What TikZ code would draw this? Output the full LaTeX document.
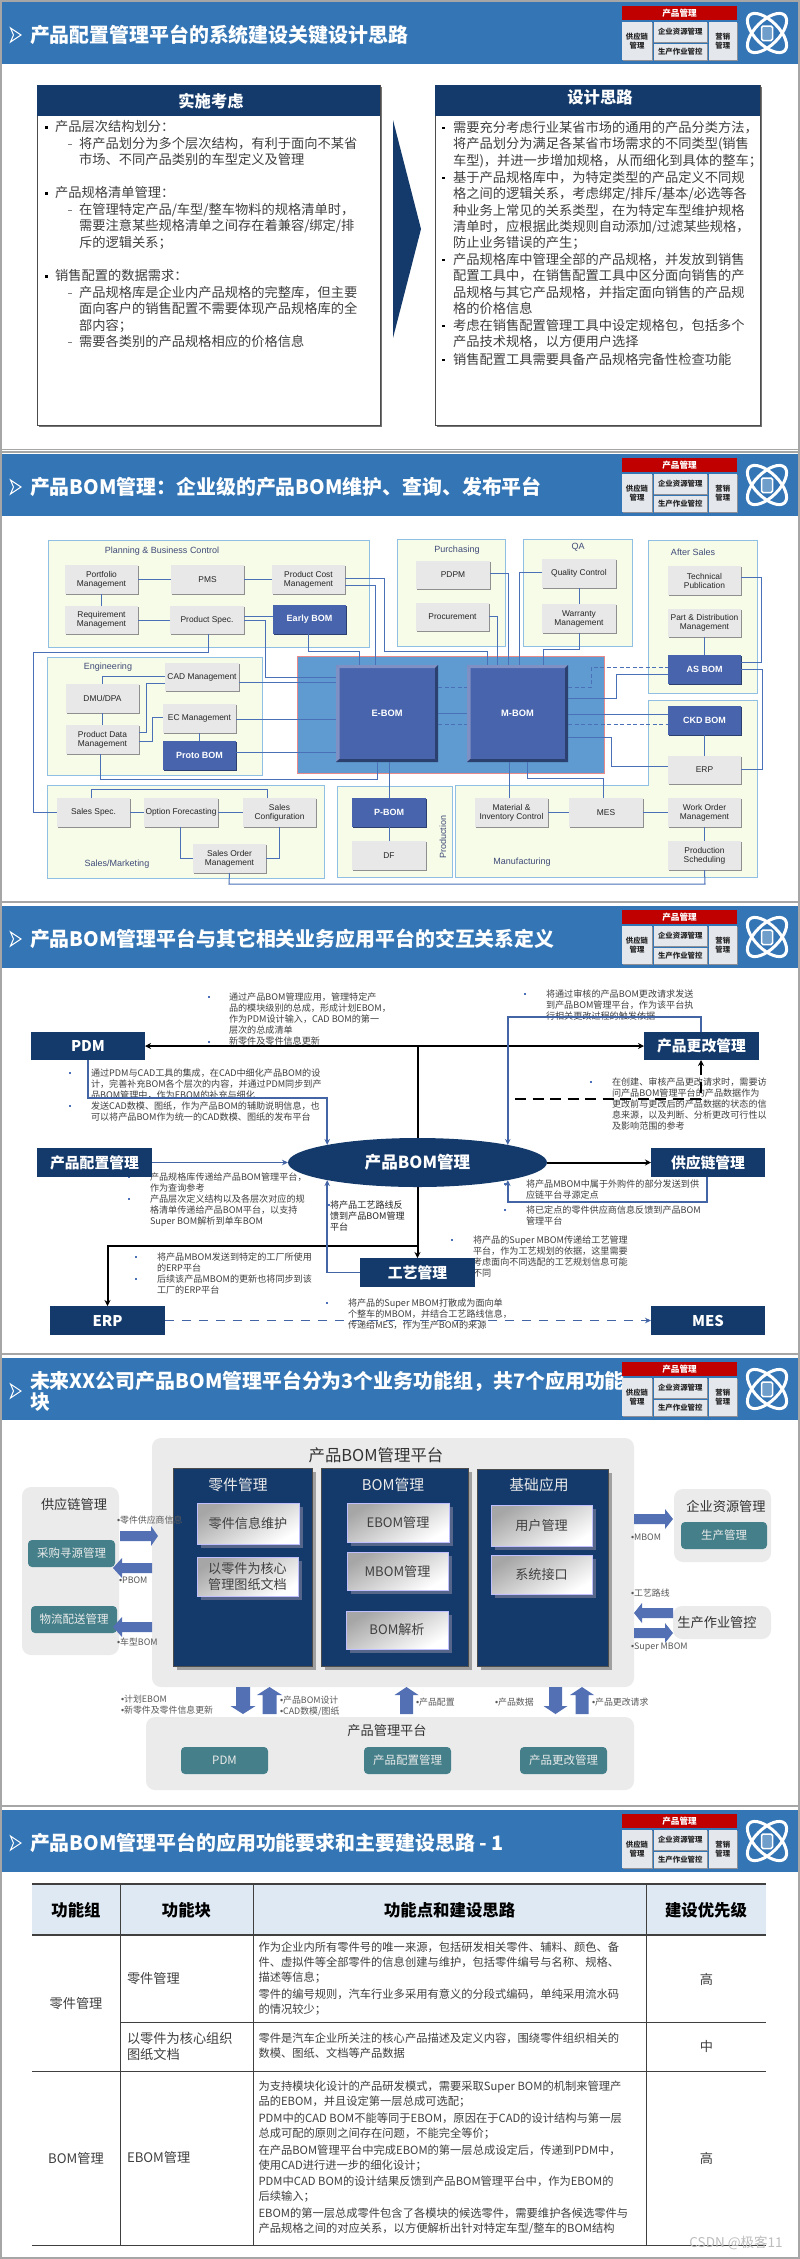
\documentclass[tikz,border=0pt]{standalone}
\usepackage{fontspec}
\setmainfont{Noto Sans CJK SC}
\newfontfamily\latf{Liberation Sans}
\newcommand\dotb{{\latf •}}
\usetikzlibrary{arrows.meta,shapes.geometric,shadows}
\definecolor{headblue}{HTML}{3375B5}
\definecolor{navy}{HTML}{143A6B}
\definecolor{badred}{HTML}{C00000}
\definecolor{badgray}{HTML}{E4E7EC}
\definecolor{edgegray}{HTML}{8C9096}
\definecolor{txtgray}{HTML}{404040}
\definecolor{framegray}{HTML}{A6A6A6}
\definecolor{grpfill}{HTML}{F7FCE8}
\definecolor{grpline}{HTML}{8FC0E4}
\definecolor{midblue}{HTML}{5F9BD0}
\definecolor{pinkline}{HTML}{E88A8A}
\definecolor{bomblue}{HTML}{4764AC}
\definecolor{bomdark}{HTML}{2C4070}
\definecolor{bomlight}{HTML}{7F90C4}
\definecolor{linkblue}{HTML}{4A70B8}
\definecolor{boxgray}{HTML}{E8E8E8}
\definecolor{boxshade}{HTML}{8F8F8F}
\definecolor{grplabel}{HTML}{3F4A78}
\definecolor{panelgray}{HTML}{EBEBEB}
\definecolor{teal}{HTML}{45808A}
\definecolor{blockblue}{HTML}{5470B5}
\definecolor{colshade}{HTML}{A0A0A0}
\definecolor{innershade}{HTML}{55668A}
\definecolor{theadfill}{HTML}{DEE9F3}
\definecolor{wmgray}{HTML}{BDBDBD}
\tikzset{
 base/.style={inner sep=0pt,outer sep=0pt,align=center},
 ttl/.style={base,anchor=west,align=left,text=white,font=\fontsize{19.9}{21}\selectfont\bfseries},
 badr/.style={base,fill=badred,text=white,font=\fontsize{8.6}{10}\selectfont\bfseries},
 badg/.style={base,fill=badgray,text=black!85,font=\fontsize{7.4}{9.5}\selectfont\bfseries,drop shadow={shadow xshift=.9pt,shadow yshift=-.9pt,fill=edgegray,opacity=1}},
 paper/.style={base,fill=white,draw=black!70,line width=.7pt,drop shadow={shadow xshift=2pt,shadow yshift=-2pt,fill=black!55,opacity=1}},
 navyhead/.style={base,fill=navy},
 headtxt/.style={base,text=white,font=\fontsize{16.3}{18}\selectfont\bfseries},
 t13/.style={inner sep=0pt,outer sep=0pt,anchor=north west,align=left,yshift=6.6pt,text=txtgray,font=\fontsize{13.25}{16.3}\selectfont},
 t9/.style={inner sep=0pt,outer sep=0pt,anchor=north west,align=left,yshift=4.6pt,text=txtgray,font=\fontsize{9.1}{11}\selectfont},
 t11/.style={inner sep=0pt,outer sep=0pt,anchor=north west,align=left,yshift=5.6pt,text=txtgray,font=\fontsize{11.27}{14.6}\selectfont},
 grp/.style={fill=grpfill,draw=grpline,line width=1pt},
 grptext/.style={base,text=grplabel,font=\latf\fontsize{9}{11}\selectfont},
 gbox/.style={base,fill=boxgray,text=black!85,font=\latf\fontsize{8.4}{9}\selectfont,drop shadow={shadow xshift=1.2pt,shadow yshift=-1.2pt,fill=boxshade,opacity=1}},
 bbox/.style={base,fill=bomblue,text=white,font=\latf\fontsize{9}{10}\selectfont\bfseries,drop shadow={shadow xshift=.8pt,shadow yshift=-.8pt,fill=bomdark,opacity=1}},
 bigbom/.style={base,fill=bomblue,text=white,font=\latf\fontsize{9.3}{11}\selectfont\bfseries},
 cn/.style={draw=linkblue,line width=1pt},
 cnd/.style={draw=linkblue,line width=1pt,dash pattern=on 4pt off 2.5pt},
 nvbox/.style={base,fill=navy,text=white,font=\fontsize{14.8}{16}\selectfont\bfseries},
 blk/.style={draw=black,line width=2pt,>={Stealth[length=6pt,width=6pt]}},
 blu/.style={draw=linkblue!90!black,line width=1.7pt,>={Stealth[length=6pt,width=5.5pt]}},
 pnl/.style={base,fill=panelgray,rounded corners=9pt,text=black!80,font=\fontsize{13.2}{15}\selectfont},
 col/.style={base,fill=navy,draw=black!70,line width=.5pt,drop shadow={shadow xshift=4pt,shadow yshift=-4pt,fill=colshade,opacity=1}},
 coltxt/.style={base,text=white!92!black,font=\fontsize{14.8}{16}\selectfont},
 inbox/.style={base,draw=blue!25!white,line width=.8pt,top color=black!35,bottom color=white,shading angle=30,text=black!75,font=\fontsize{13.1}{16}\selectfont,drop shadow={shadow xshift=4pt,shadow yshift=-4pt,fill=innershade,opacity=1}},
 tealbox/.style={base,fill=teal,rounded corners=4pt,text=white!92!black,font=\fontsize{11.5}{13}\selectfont},
 lbl/.style={inner sep=0pt,outer sep=0pt,anchor=north west,align=left,yshift=4.5pt,text=black!65,font=\fontsize{8.9}{11}\selectfont},
 blockfill/.style={fill=blockblue},
 thd/.style={base,text=black,font=\fontsize{16.4}{18}\selectfont\bfseries},
 tcell/.style={base,text=txtgray,font=\fontsize{13.2}{16}\selectfont},
 tleft/.style={inner sep=0pt,outer sep=0pt,anchor=north west,align=left,yshift=6.6pt,text=txtgray,font=\fontsize{13.2}{16}\selectfont},
}
\newcommand\bx[7]{%
 \pgfmathsetmacro\rsW{#5-#3}\pgfmathsetmacro\rsH{#6-#4}%
 \pgfmathsetmacro\rsX{(#3+#5)/2}\pgfmathsetmacro\rsY{(#4+#6)/2}%
 \node[#1,minimum width=\rsW pt,minimum height=\rsH pt] (#2) at (\rsX,\rsY) {#7};}
\newcommand\sq[4]{\fill[#4] ({#1-#3/2},{#2-#3/2}) rectangle ({#1+#3/2},{#2+#3/2});}
\newcommand\dashmark[1]{\fill[black!50] (68,{#1-.5}) rectangle (71.5,{#1+.5});}
\newcommand\slidehead[3]{%
 \begin{scope}[shift={(0,#2)}]
 \fill[headblue] (2,0) rectangle (798,62);
 \draw[white,line width=1pt,line join=miter] (10.5,26)--(21,33)--(10.5,40)--(13.5,33)--cycle;
 \node[ttl] (#1title) at (30,33.3) {#3};
 \bx{badr}{#1r}{622}{4}{737}{18}{产品管理}
 \bx{badg}{#1a}{622}{20}{652}{58}{供应链\\管理}
 \bx{badg}{#1b}{653.5}{20}{707}{40}{企业资源管理}
 \bx{badg}{#1c}{653.5}{41.5}{707}{58}{生产作业管控}
 \bx{badg}{#1d}{708.5}{20}{737}{58}{营销\\管理}
 \draw[white,line width=3pt,rotate around={45:(767,31)}] (767,31) ellipse [x radius=25pt,y radius=12pt];
 \draw[white,line width=3pt,rotate around={-45:(767,31)}] (767,31) ellipse [x radius=25pt,y radius=12pt];
 \draw[white,fill=headblue!70!white,line width=1.5pt,rounded corners=1.5pt] (761.5,24) rectangle (772.5,38.5);
 \end{scope}}
\newcommand\bevel[1]{%
 \fill[bomlight] (#1.north west)--(#1.north east)--([xshift=-3pt,yshift=-3pt]#1.north east)--([xshift=3.5pt,yshift=-3pt]#1.north west)--cycle;
 \fill[bomlight] (#1.north west)--(#1.south west)--([xshift=3.5pt,yshift=3pt]#1.south west)--([xshift=3.5pt,yshift=-3pt]#1.north west)--cycle;
 \fill[bomdark] (#1.north east)--(#1.south east)--([xshift=-3pt,yshift=3pt]#1.south east)--([xshift=-3pt,yshift=-3pt]#1.north east)--cycle;
 \fill[bomdark] (#1.south west)--(#1.south east)--([xshift=-3pt,yshift=3pt]#1.south east)--([xshift=3.5pt,yshift=3pt]#1.south west)--cycle;}
\newcommand\rarr[4]{\fill[blockfill] (#1,{#4-5})--(#2,{#4-5})--(#2,{#4-10})--(#3,#4)--(#2,{#4+10})--(#2,{#4+5})--(#1,{#4+5})--cycle;}
\newcommand\darr[5]{\fill[blockfill] ({#1-#5},#2)--({#1+#5},#2)--({#1+#5},#3)--({#1+#5+5.5},#3)--(#1,#4)--({#1-#5-5.5},#3)--({#1-#5},#3)--cycle;}
\begin{document}
\begin{tikzpicture}[x=1pt,y=-1pt]
\useasboundingbox (0,0) rectangle (800,2259);
\fill[white] (0,0) rectangle (800,2259);
\fill[framegray] (0,0) rectangle (2,2259);
\fill[framegray] (798,0) rectangle (800,2259);
\fill[framegray] (0,0) rectangle (800,2);
\fill[framegray] (0,448.8) rectangle (800,450);
\fill[framegray] (0,451.3) rectangle (800,452.7);
\fill[framegray] (0,901) rectangle (800,902.7);
\fill[framegray] (0,1353) rectangle (800,1354.7);
\fill[framegray] (0,1804.7) rectangle (800,1806.7);
\fill[framegray] (0,2257) rectangle (800,2259);

% ---------- slide 1
\slidehead{sa}{2}{产品配置管理平台的系统建设关键设计思路}
\bx{paper}{lpaper}{37}{85}{380}{425}{}
\bx{navyhead}{lhead}{37}{85}{380}{116}{}
\node[headtxt] (ltitle) at (211,101) {实施考虑};
\bx{paper}{rpaper}{435}{85}{760}{425}{}
\bx{navyhead}{rhead}{435}{85}{760}{116}{}
\node[headtxt] (rtitle) at (600,97) {设计思路};
\fill[navy] (393,120)--(421,229)--(393,338)--cycle;
\sq{46}{127}{3}{black}\sq{46}{193}{3}{black}\sq{46}{276}{3}{black}
\dashmark{144}\dashmark{210}\dashmark{293}\dashmark{342}
\node[t13] (l1) at (55,127) {产品层次结构划分：};
\node[t13] (l1s) at (79,144) {将产品划分为多个层次结构，有利于面向不某省\\市场、不同产品类别的车型定义及管理};
\node[t13] (l2) at (55,193) {产品规格清单管理：};
\node[t13] (l2s) at (79,210) {在管理特定产品/车型/整车物料的规格清单时，\\需要注意某些规格清单之间存在着兼容/绑定/排\\斥的逻辑关系；};
\node[t13] (l3) at (55,276) {销售配置的数据需求：};
\node[t13] (l3s) at (79,293) {产品规格库是企业内产品规格的完整库，但主要\\面向客户的销售配置不需要体现产品规格库的全\\部内容；};
\node[t13] (l3t) at (79,342) {需要各类别的产品规格相应的价格信息};
\sq{443.5}{128}{2.6}{black}\sq{443.5}{178}{2.6}{black}\sq{443.5}{260}{2.6}{black}\sq{443.5}{326}{2.6}{black}\sq{443.5}{360}{2.6}{black}
\node[t13] (r1) at (453,128) {需要充分考虑行业某省市场的通用的产品分类方法，\\将产品划分为满足各某省市场需求的不同类型(销售\\车型)，并进一步增加规格，从而细化到具体的整车；};
\node[t13] (r2) at (453,178) {基于产品规格库中，为特定类型的产品定义不同规\\格之间的逻辑关系，考虑绑定/排斥/基本/必选等各\\种业务上常见的关系类型，在为特定车型维护规格\\清单时，应根据此类规则自动添加/过滤某些规格，\\防止业务错误的产生；};
\node[t13] (r3) at (453,260) {产品规格库中管理全部的产品规格，并发放到销售\\配置工具中，在销售配置工具中区分面向销售的产\\品规格与其它产品规格，并指定面向销售的产品规\\格的价格信息};
\node[t13] (r4) at (453,326) {考虑在销售配置管理工具中设定规格包，包括多个\\产品技术规格，以方便用户选择};
\node[t13] (r5) at (453,360) {销售配置工具需要具备产品规格完备性检查功能};

% ---------- slide 2
\slidehead{sb}{454}{产品BOM管理：企业级的产品BOM维护、查询、发布平台}
\draw[grp] (48,540) rectangle (369,647);
\draw[grp] (397,539) rectangle (505,646);
\draw[grp] (523,539) rectangle (632,646);
\draw[grp] (648,540) rectangle (757,693);
\draw[grp] (47,657) rectangle (262,775);
\draw[grp] (47,785) rectangle (324,878);
\draw[grp] (337,786) rectangle (452,877);
\draw[grp] (648,700)--(757,700)--(757,877)--(455,877)--(455,785)--(648,785)--cycle;
\draw[fill=midblue,draw=pinkline,line width=1pt] (297,656) rectangle (604,773);
\node[grptext] (gplan) at (162,551) {Planning \& Business Control};
\node[grptext] (gpur) at (457,550) {Purchasing};
\node[grptext] (gqa) at (578,547) {QA};
\node[grptext] (gas) at (693,552) {After Sales};
\node[grptext] (geng) at (108,667) {Engineering};
\node[grptext] (gsal) at (117,864) {Sales/Marketing};
\node[grptext,rotate=90] (gpro) at (443,837) {Production};
\node[grptext] (gman) at (522,862) {Manufacturing};
\bx{gbox}{port}{65}{565}{138}{594}{Portfolio\\Management}
\bx{gbox}{pms}{171}{565}{244}{594}{PMS}
\bx{gbox}{pcost}{272}{565}{345}{594}{Product Cost\\Management}
\bx{gbox}{req}{65}{606}{138}{634}{Requirement\\Management}
\bx{gbox}{pspec}{170}{606}{244}{634}{Product Spec.}
\bx{bbox}{early}{273}{605}{346}{634}{Early BOM}
\bx{gbox}{cad}{165}{663}{239}{691}{CAD Management}
\bx{gbox}{dmu}{66}{684}{139}{713}{DMU/DPA}
\bx{gbox}{ec}{163}{704}{236}{733}{EC Management}
\bx{gbox}{pdata}{66}{725}{139}{754}{Product Data\\Management}
\bx{bbox}{proto}{163}{741}{236}{770}{Proto BOM}
\bx{gbox}{sspec}{57}{798}{130}{827}{Sales Spec.}
\bx{gbox}{optf}{144}{798}{218}{827}{Option Forecasting}
\bx{gbox}{scfg}{243}{798}{316}{827}{Sales\\Configuration}
\bx{gbox}{sord}{193}{844}{266}{873}{Sales Order\\Management}
\bx{bbox}{pbom}{352}{798}{426}{827}{P-BOM}
\bx{gbox}{df}{352}{841}{426}{870}{DF}
\bx{gbox}{pdpm}{416}{561}{490}{589}{PDPM}
\bx{gbox}{proc}{416}{603}{489}{631}{Procurement}
\bx{gbox}{qual}{542}{559}{616}{588}{Quality Control}
\bx{gbox}{warr}{542}{604}{616}{633}{Warranty\\Management}
\bx{gbox}{tech}{668}{566}{741}{595}{Technical\\Publication}
\bx{gbox}{part}{668}{609}{741}{637}{Part \& Distribution\\Management}
\bx{bbox}{asb}{668}{655}{741}{684}{AS BOM}
\bx{bbox}{ckd}{668}{706}{741}{735}{CKD BOM}
\bx{gbox}{erpb}{668}{756}{741}{784}{ERP}
\bx{gbox}{wo}{668}{798}{741}{827}{Work Order\\Management}
\bx{gbox}{psch}{668}{841}{741}{870}{Production\\Scheduling}
\bx{gbox}{matl}{475}{798}{548}{827}{Material \&\\Inventory Control}
\bx{gbox}{mesb}{569}{798}{643}{827}{MES}
\bx{bigbom}{eb}{336}{665}{438}{762}{E-BOM}
\bx{bigbom}{mb}{467}{665}{568}{762}{M-BOM}
\bevel{eb}\bevel{mb}
\draw[cn] (port.east) -- (pms.west);
\draw[cn] (pms.east) -- (pcost.west);
\draw[cn] (port.south) -- (req.north);
\draw[cn] (req.east) -- (pspec.west);
\draw[cn] (pspec.east |- 0,616) -- (early.west |- 0,616);
\draw[cn] (pspec.east |- 0,620) -- (265,620) -- (265,677) -- (eb.west |- 0,677);
\draw[cn] (pcost.east |- 0,578) -- (384,578) -- (384,651) -- (487,651) -- (487,0 |- mb.north);
\draw[cn] (pcost.east |- 0,585) -- (375.5,585) -- (375.5,0 |- eb.north);
\draw[cn] (308,0 |- early.south) -- (308,651) -- (359,651) -- (359,0 |- eb.north);
\draw[cn] (208,0 |- pspec.south) -- (208,652) -- (33,652) -- (33,812) -- (sspec.west |- 0,812);
\draw[cn] (cad.east |- 0,682) -- (eb.west |- 0,682);
\draw[cn] (cad.west |- 0,676) -- (102,676) -- (102,0 |- dmu.north);
\draw[cn] (pdata.east |- 0,732) -- (146,732) -- (146,683) -- (cad.west |- 0,683);
\draw[cn] (pdata.east |- 0,741) -- (152,741) -- (152,717) -- (ec.west |- 0,717);
\draw[cn] (102,0 |- dmu.south) -- (102,0 |- pdata.north);
\draw[cn] (ec.south) -- (ec.south |- proto.north);
\draw[cn] (ec.east |- 0,719) -- (eb.west |- 0,719);
\draw[cn] (proto.east |- 0,752) -- (eb.west |- 0,752);
\draw[cn] (100,0 |- pdata.south) -- (100,779) -- (377,779) -- (377,0 |- eb.south);
\draw[cn] (pbom.north |- eb.south) -- (pbom.north);
\draw[cn] (pbom.south) -- (df.north);
\draw[cn] (eb.east) -- (mb.west);
\draw[cnd] (eb.east |- 0,687) -- (mb.west |- 0,687);
\draw[cnd] (eb.east |- 0,724) -- (mb.west |- 0,724);
\draw[cnd] (mb.east |- 0,687) -- (591,687) -- (591,667) -- (asb.west |- 0,667);
\draw[cn] (mb.east |- 0,698) -- (616,698) -- (616,674) -- (asb.west |- 0,674);
\draw[cn] (mb.east |- 0,714) -- (ckd.west |- 0,714);
\draw[cnd] (mb.east |- 0,724) -- (ckd.west |- 0,724);
\draw[cn] (mb.east |- 0,737) -- (611,737) -- (611,766) -- (erpb.west |- 0,766);
\draw[cn] (509,0 |- mb.south) -- (509,0 |- matl.north);
\draw[cn] (527,0 |- mb.south) -- (527,778) -- (603,778) -- (603,0 |- mesb.north);
\draw[cn] (matl.east) -- (mesb.west);
\draw[cn] (mesb.east) -- (wo.west);
\draw[cn] (wo.south) -- (psch.north);
\draw[cn] (psch.south) -- (705,884) -- (229,884) -- (sord.south);
\draw[cn] (91,0 |- sspec.north) -- (91,789) -- (267,789) -- (267,0 |- scfg.north);
\draw[cn] (sspec.east) -- (optf.west);
\draw[cn] (optf.east) -- (scfg.west);
\draw[cn] (180,0 |- optf.south) -- (180,858) -- (sord.west |- 0,858);
\draw[cn] (279,0 |- scfg.south) -- (279,858) -- (sord.east |- 0,858);
\draw[cn] (proc.east |- 0,616) -- (497,616) -- (497,0 |- mb.north);
\draw[cn] (pdpm.east |- 0,573) -- (508,573) -- (508,0 |- mb.north);
\draw[cn] (qual.west |- 0,572) -- (519,572) -- (519,0 |- mb.north);
\draw[cn] (qual.south) -- (warr.north);
\draw[cn] (warr.south) -- (579,649) -- (543,649) -- (543,0 |- mb.north);
\draw[cn] (tech.east |- 0,577) -- (761,577) -- (761,662) -- (asb.east |- 0,662);
\draw[cn] (asb.east |- 0,669) -- (762,669) -- (762,769) -- (erpb.east |- 0,769);
\draw[cn] (part.south) -- (asb.north);
\draw[cn] (ckd.south) -- (erpb.north);

% ---------- slide 3
\slidehead{sc}{906}{产品BOM管理平台与其它相关业务应用平台的交互关系定义}
\node[t9] (ta) at (229,997) {通过产品BOM管理应用，管理特定产\\品的模块级别的总成，形成计划EBOM，\\作为PDM设计输入，CAD BOM的第一\\层次的总成清单\\新零件及零件信息更新};
\sq{208.7}{997}{2.4}{linkblue}\sq{208.7}{1042}{2.4}{linkblue}
\node[t9] (tb) at (91,1073) {通过PDM与CAD工具的集成，在CAD中细化产品BOM的设\\计，完善补充BOM各个层次的内容，并通过PDM同步到产\\品BOM管理中，作为EBOM的补充与细化\\发送CAD数模、图纸，作为产品BOM的辅助说明信息，也\\可以将产品BOM作为统一的CAD数模、图纸的发布平台};
\sq{70}{1073}{2.4}{linkblue}\sq{70}{1106}{2.4}{linkblue}
\node[t9] (tc) at (150,1177) {产品规格库传递给产品BOM管理平台，\\作为查询参考\\产品层次定义结构以及各层次对应的规\\格清单传递给产品BOM平台，以支持\\Super BOM解析到单车BOM};
\sq{129}{1177}{2.4}{linkblue}\sq{129}{1199}{2.4}{linkblue}
\node[t9,text=black!85] (td) at (330,1205) {将产品工艺路线反\\馈到产品BOM管理\\平台};
\sq{329}{1205}{1.8}{linkblue}
\node[t9] (te) at (157,1257) {将产品MBOM发送到特定的工厂所使用\\的ERP平台\\后续该产品MBOM的更新也将同步到该\\工厂的ERP平台};
\sq{136}{1257}{2.4}{linkblue}\sq{136}{1279}{2.4}{linkblue}
\node[t9] (tf) at (348,1303) {将产品的Super MBOM打散成为面向单\\个整车的MBOM，并结合工艺路线信息，\\传递给MES，作为生产BOM的来源};
\sq{327}{1303}{2.4}{linkblue}
\node[t9] (tg) at (546,994) {将通过审核的产品BOM更改请求发送\\到产品BOM管理平台，作为该平台执\\行相关更改过程的触发依据};
\sq{525}{994}{2.4}{linkblue}
\node[t9] (th) at (612,1082) {在创建、审核产品更改请求时，需要访\\问产品BOM管理平台的产品数据作为\\更改前与更改后的产品数据的状态的信\\息来源，以及判断、分析更改可行性以\\及影响范围的参考};
\sq{591}{1082}{2.4}{linkblue}
\node[t9] (ti) at (526,1184) {将产品MBOM中属于外购件的部分发送到供\\应链平台寻源定点};
\node[t9] (tj) at (526,1210) {将已定点的零件供应商信息反馈到产品BOM\\管理平台};
\sq{505}{1184}{2.4}{linkblue}\sq{505}{1210}{2.4}{linkblue}
\node[t9] (tk) at (473,1240) {将产品的Super MBOM传递给工艺管理\\平台，作为工艺规划的依据，这里需要\\考虑面向不同选配的工艺规划信息可能\\不同};
\sq{452}{1240}{2.4}{linkblue}
\bx{nvbox}{pdm}{31}{1032}{145}{1060}{PDM}
\bx{nvbox}{cfg}{37}{1148}{152}{1177}{产品配置管理}
\bx{nvbox}{erp}{50}{1306}{165}{1335}{ERP}
\bx{nvbox}{gy}{360}{1258}{475}{1287}{工艺管理}
\bx{nvbox}{chg}{644}{1032}{759}{1060}{产品更改管理}
\bx{nvbox}{scm}{651}{1148}{765}{1177}{供应链管理}
\bx{nvbox}{mes}{651}{1306}{765}{1335}{MES}
\node[ellipse,fill=navy,inner sep=0pt,outer sep=0pt,minimum width=259pt,minimum height=49pt,text=white,font=\fontsize{16.6}{18}\selectfont\bfseries] (core) at (417.5,1162.5) {产品BOM管理};
\draw[blk,<->] (pdm.east) -- (chg.west);
\draw[blk] (core.north |- pdm.east) -- (core.north);
\draw[blk,->] (core.south) -- (gy.north);
\draw[blk,->] (gy.north |- 0,1246) -- (erp.north |- 0,1246) -- (erp.north);
\draw[blk,->] (core.east) -- (scm.west |- core.east);
\draw[blk,->,dash pattern=on 11pt off 6.5pt] (515,1099) -- (701,1099) -- (701,0 |- chg.south);
\draw[blu,->] (88,0 |- pdm.south) -- (88,1098) -- (core.169 |- 0,1098) -- (core.169);
\draw[blu,->] (cfg.east |- core.west) -- (core.west);
\draw[blu,->] (gy.west) -- (core.191 |- gy.west) -- (core.191);
\draw[blu,->] (701,0 |- chg.north) -- (701,1017) -- (core.11 |- 0,1017) -- (core.11);
\draw[blu,->] (707,0 |- scm.south) -- (707,1202) -- (core.349 |- 0,1202) -- (core.349);
\draw[blu,->,dash pattern=on 9pt off 8pt] (erp.east) -- (mes.west);

% ---------- slide 4
\slidehead{sd}{1358}{未来XX公司产品BOM管理平台分为3个业务功能组，共7个应用功能\\块}
\bx{pnl}{pmain}{152}{1438}{634}{1687}{}
\node[base,text=black!80,font=\fontsize{16.4}{18}\selectfont] (pmaint) at (376,1455) {产品BOM管理平台};
\bx{col}{c1}{173}{1468}{312}{1666}{}
\bx{col}{c2}{321}{1468}{468}{1666}{}
\bx{col}{c3}{477}{1469}{608}{1666}{}
\node[coltxt] (c1t) at (238,1485) {零件管理};
\node[coltxt] (c2t) at (393,1485) {BOM管理};
\node[coltxt] (c3t) at (539,1485) {基础应用};
\bx{inbox}{i1}{197}{1503}{299}{1544}{零件信息维护}
\bx{inbox}{i2}{197}{1557}{298}{1596}{以零件为核心\\管理图纸文档}
\bx{inbox}{i3}{347}{1503}{449}{1542}{EBOM管理}
\bx{inbox}{i4}{347}{1552}{448}{1590}{MBOM管理}
\bx{inbox}{i5}{346}{1611}{448}{1649}{BOM解析}
\bx{inbox}{i6}{491}{1505}{592}{1546}{用户管理}
\bx{inbox}{i7}{491}{1555}{592}{1594}{系统接口}
\bx{pnl}{pscm}{22}{1487}{119}{1655}{}
\node[base,text=black!80,font=\fontsize{13.2}{15}\selectfont] (pscmt) at (74,1504) {供应链管理};
\bx{tealbox}{st1}{28}{1540}{115}{1567}{采购寻源管理}
\bx{tealbox}{st2}{31}{1606}{117}{1633}{物流配送管理}
\bx{pnl}{perp}{674}{1489}{771}{1562}{}
\node[base,text=black!80,font=\fontsize{13.2}{15}\selectfont] (perpt) at (726,1506) {企业资源管理};
\bx{tealbox}{et1}{681}{1522}{767}{1549}{生产管理}
\bx{pnl}{pmes}{673}{1606}{771}{1639}{}
\node[base,text=black!80,font=\fontsize{13.2}{15}\selectfont] (pmest) at (717,1622) {生产作业管控};
\bx{pnl}{pbot}{146}{1717}{634}{1790}{}
\node[base,text=black!80,font=\fontsize{13.2}{15}\selectfont] (pbott) at (387,1730) {产品管理平台};
\bx{tealbox}{bt1}{181}{1747}{268}{1774}{PDM}
\bx{tealbox}{bt2}{364}{1747}{451}{1774}{产品配置管理}
\bx{tealbox}{bt3}{520}{1747}{607}{1774}{产品更改管理}
\rarr{120}{151}{158}{1536}
\rarr{152}{122}{113}{1568}
\rarr{152}{122}{113}{1627}
\rarr{634}{665}{673}{1519}
\rarr{673}{642}{634}{1613}
\rarr{634}{665}{673}{1633}
\darr{243}{1687}{1706}{1714}{7}
\darr{269.5}{1714}{1695}{1687}{7}
\darr{406.5}{1714}{1695}{1687}{6.5}
\darr{555.5}{1687}{1706}{1714}{6.5}
\darr{582}{1714}{1695}{1687}{6.5}
\node[lbl] (la1) at (117,1520) {\dotb 零件供应商信息};
\node[lbl] (la2) at (119,1581) {\vphantom{国}\dotb PBOM};
\node[lbl] (la3) at (117,1642) {\dotb 车型BOM};
\node[lbl] (la4) at (121,1700) {\dotb 计划EBOM\\\dotb 新零件及零件信息更新};
\node[lbl] (la5) at (280,1700) {\dotb 产品BOM设计\\\dotb CAD数模/图纸};
\node[lbl] (la6) at (416,1702) {\dotb 产品配置};
\node[lbl] (la7) at (495,1702) {\dotb 产品数据};
\node[lbl] (la8) at (592,1702) {\dotb 产品更改请求};
\node[lbl] (la9) at (631,1538) {\vphantom{国}\dotb MBOM};
\node[lbl] (la10) at (631,1593) {\dotb 工艺路线};
\node[lbl] (la11) at (631,1647) {\vphantom{国}\dotb Super MBOM};

% ---------- slide 5
\slidehead{se}{1810}{产品BOM管理平台的应用功能要求和主要建设思路 - 1}
\fill[theadfill] (32,1884) rectangle (766,1935);
\draw[black!75,line width=1.3pt] (32,1884) -- (766,1884);
\draw[black!75,line width=1.3pt] (32,1935) -- (766,1935);
\draw[black!75,line width=1pt] (120,2022) -- (766,2022);
\draw[black!75,line width=1pt] (32,2071) -- (766,2071);
\draw[black!75,line width=1pt] (32,2245) -- (766,2245);
\draw[black!75,line width=.7pt] (120,1884) -- (120,2245);
\draw[black!75,line width=.7pt] (253,1884) -- (253,2245);
\draw[black!75,line width=.7pt] (646,1884) -- (646,2245);
\node[thd] (h1) at (76,1910) {功能组};
\node[thd] (h2) at (186.5,1910) {功能块};
\node[thd] (h3) at (449.6,1910) {功能点和建设思路};
\node[thd] (h4) at (706,1910) {建设优先级};
\node[tcell] (g1) at (76,2003) {零件管理};
\node[tcell] (g2) at (76,2158) {BOM管理};
\node[tleft] (f1) at (127,1979) {零件管理};
\node[tleft] (f2) at (127,2039) {以零件为核心组织\\图纸文档};
\node[tleft] (f3) at (127,2158) {EBOM管理};
\node[tcell] (p1) at (706.5,1979) {高};
\node[tcell] (p2) at (706.5,2046) {中};
\node[tcell] (p3) at (706.5,2158) {高};
\node[t11] (d1) at (258.5,1948) {作为企业内所有零件号的唯一来源，包括研发相关零件、辅料、颜色、备\\件、虚拟件等全部零件的信息创建与维护，包括零件编号与名称、规格、\\描述等信息；};
\node[t11] (d2) at (258.5,1995) {零件的编号规则，汽车行业多采用有意义的分段式编码，单纯采用流水码\\的情况较少；};
\node[t11] (d3) at (258.5,2039) {零件是汽车企业所关注的核心产品描述及定义内容，围绕零件组织相关的\\数模、图纸、文档等产品数据};
\node[t11] (d4) at (258.5,2087) {为支持模块化设计的产品研发模式，需要采取Super BOM的机制来管理产\\品的EBOM，并且设定第一层总成可选配；};
\node[t11] (d5) at (258.5,2119) {PDM中的CAD BOM不能等同于EBOM，原因在于CAD的设计结构与第一层\\总成可配的原则之间存在问题，不能完全等价；};
\node[t11] (d6) at (258.5,2151) {在产品BOM管理平台中完成EBOM的第一层总成设定后，传递到PDM中，\\使用CAD进行进一步的细化设计；};
\node[t11] (d7) at (258.5,2182) {PDM中CAD BOM的设计结果反馈到产品BOM管理平台中，作为EBOM的\\后续输入；};
\node[t11] (d8) at (258.5,2214) {EBOM的第一层总成零件包含了各模块的候选零件，需要维护各候选零件与\\产品规格之间的对应关系，以方便解析出针对特定车型/整车的BOM结构};
\node[base,text=wmgray,font=\fontsize{13.5}{15}\selectfont] (wm) at (736,2243) {CSDN @极客11};
\end{tikzpicture}
\end{document}
